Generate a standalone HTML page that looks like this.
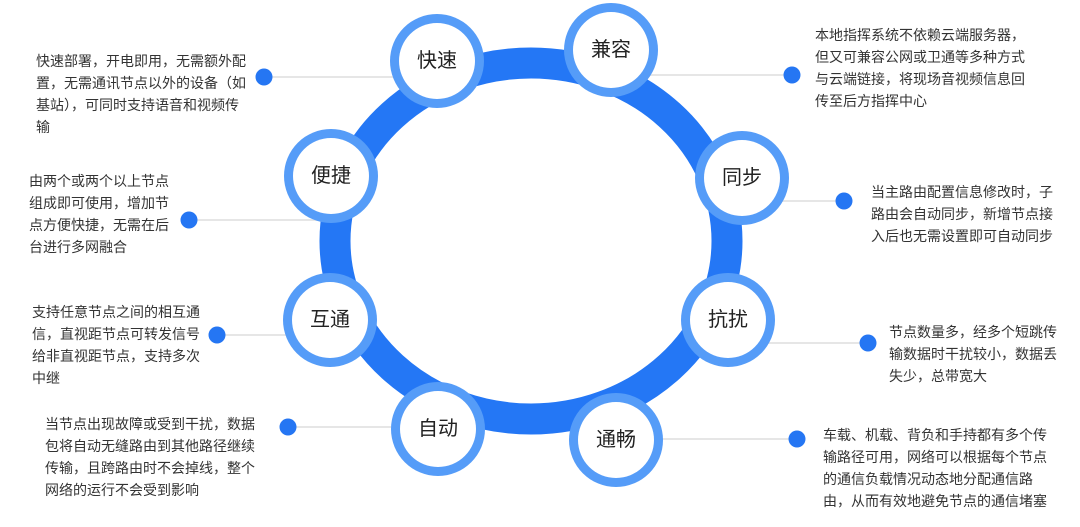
<!DOCTYPE html>
<html><head><meta charset="utf-8"><style>
html,body{margin:0;padding:0;background:#fff;}
body{width:1080px;height:527px;position:relative;overflow:hidden;font-family:"Liberation Sans","Noto Sans CJK SC",sans-serif;}
svg{position:absolute;left:0;top:0;}
.t{position:absolute;font-size:14px;line-height:22px;color:#333;white-space:nowrap;font-family:"Liberation Sans","Noto Sans CJK SC",sans-serif;}
</style></head><body>
<svg width="1080" height="527" viewBox="0 0 1080 527">
<g stroke="#e6e6e6" stroke-width="2">
<line x1="264" y1="77" x2="437" y2="77"/>
<line x1="189" y1="220" x2="331" y2="220"/>
<line x1="217" y1="335" x2="330" y2="335"/>
<line x1="288" y1="427" x2="438" y2="427"/>
<line x1="611" y1="75" x2="792" y2="75"/>
<line x1="742" y1="201" x2="844" y2="201"/>
<line x1="728" y1="343" x2="868" y2="343"/>
<line x1="616" y1="439" x2="797" y2="439"/>
</g>
<ellipse cx="531" cy="241" rx="196" ry="178" fill="none" stroke="#2477f5" stroke-width="31"/>
<g fill="#2576f3">
<circle cx="264" cy="77" r="8.5"/>
<circle cx="189" cy="220" r="8.5"/>
<circle cx="217" cy="335" r="8.5"/>
<circle cx="288" cy="427" r="8.5"/>
<circle cx="792" cy="75" r="8.5"/>
<circle cx="844" cy="201" r="8.5"/>
<circle cx="868" cy="343" r="8.5"/>
<circle cx="797" cy="439" r="8.5"/>
</g>
<g>
<circle cx="437" cy="61" r="47" fill="#559cf8"/><circle cx="437" cy="61" r="38" fill="#fff"/>
<circle cx="611" cy="50" r="47" fill="#559cf8"/><circle cx="611" cy="50" r="38" fill="#fff"/>
<circle cx="742" cy="178" r="47" fill="#559cf8"/><circle cx="742" cy="178" r="38" fill="#fff"/>
<circle cx="728" cy="320" r="47" fill="#559cf8"/><circle cx="728" cy="320" r="38" fill="#fff"/>
<circle cx="616" cy="440" r="47" fill="#559cf8"/><circle cx="616" cy="440" r="38" fill="#fff"/>
<circle cx="438" cy="429" r="47" fill="#559cf8"/><circle cx="438" cy="429" r="38" fill="#fff"/>
<circle cx="330" cy="320" r="47" fill="#559cf8"/><circle cx="330" cy="320" r="38" fill="#fff"/>
<circle cx="331" cy="176" r="47" fill="#559cf8"/><circle cx="331" cy="176" r="38" fill="#fff"/>
</g>
<g font-family="Liberation Sans, Noto Sans CJK SC, sans-serif" font-size="20" fill="#222" text-anchor="middle" dominant-baseline="central">
<text x="437" y="61">快速</text>
<text x="611" y="50">兼容</text>
<text x="742" y="178">同步</text>
<text x="728" y="320">抗扰</text>
<text x="616" y="440">通畅</text>
<text x="438" y="429">自动</text>
<text x="330" y="320">互通</text>
<text x="331" y="176">便捷</text>
</g>
</svg>
<div class="t" style="left:36px;top:50px;">快速部署，开电即用，无需额外配<br>置，无需通讯节点以外的设备（如<br>基站），可同时支持语音和视频传<br>输</div>
<div class="t" style="left:29px;top:170px;">由两个或两个以上节点<br>组成即可使用，增加节<br>点方便快捷，无需在后<br>台进行多网融合</div>
<div class="t" style="left:32px;top:301px;">支持任意节点之间的相互通<br>信，直视距节点可转发信号<br>给非直视距节点，支持多次<br>中继</div>
<div class="t" style="left:45px;top:413px;">当节点出现故障或受到干扰，数据<br>包将自动无缝路由到其他路径继续<br>传输，且跨路由时不会掉线，整个<br>网络的运行不会受到影响</div>
<div class="t" style="left:815px;top:24px;">本地指挥系统不依赖云端服务器，<br>但又可兼容公网或卫通等多种方式<br>与云端链接，将现场音视频信息回<br>传至后方指挥中心</div>
<div class="t" style="left:871px;top:181px;">当主路由配置信息修改时，子<br>路由会自动同步，新增节点接<br>入后也无需设置即可自动同步</div>
<div class="t" style="left:889px;top:321px;">节点数量多，经多个短跳传<br>输数据时干扰较小，数据丢<br>失少，总带宽大</div>
<div class="t" style="left:823px;top:424px;">车载、机载、背负和手持都有多个传<br>输路径可用，网络可以根据每个节点<br>的通信负载情况动态地分配通信路<br>由，从而有效地避免节点的通信堵塞</div>
</body></html>
